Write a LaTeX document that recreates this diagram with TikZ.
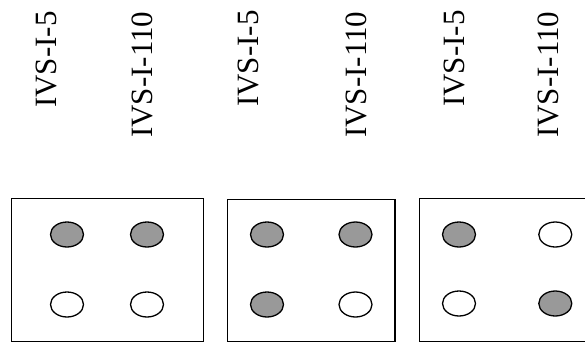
\documentclass[tikz,border=0pt]{standalone}
\usepackage{fontspec}
\setmainfont{Liberation Serif}
\usetikzlibrary{shapes.geometric}
\tikzset{
  x=1pt, y=-1pt,
  panel/.style={draw=black, line width=1.5pt},
  dot/.style={ellipse, draw=black, line width=1.3pt, minimum width=33pt, minimum height=25pt, inner sep=0pt},
  on/.style={dot, fill=black!40},
  off/.style={dot, fill=white},
  lbl/.style={rotate=90, anchor=base west, inner sep=0pt, font=\fontsize{31}{31}\selectfont}
}
\begin{document}
\begin{tikzpicture}
\useasboundingbox (0,0) rectangle (585,343);
\clip (0,0) rectangle (585,343);
% panels
\draw[panel] (11.5,198.5) rectangle (203.3,341.5) coordinate (p1);
\draw[panel] (227.3,199.5) rectangle (395,341.5) coordinate (p2);
\draw[panel] (419.3,198.7) rectangle (592,341.5) coordinate (p3);
% column labels
\node[lbl] (a1) at (56,108) {IVS-I-5};
\node[lbl] (b1) at (152,138) {IVS-I-110};
\node[lbl] (a2) at (258,107) {IVS-I-5};
\node[lbl] (b2) at (366,138) {IVS-I-110};
\node[lbl] (a3) at (464,107) {IVS-I-5};
\node[lbl] (b3) at (558,138) {IVS-I-110};
% panel 1
\node[on]  (d11) at (67,234.5) {};
\node[on]  (d12) at (147,234.5) {};
\node[off] (d13) at (67,304.5) {};
\node[off] (d14) at (147,304.5) {};
% panel 2
\node[on]  (d21) at (267,234.5) {};
\node[on]  (d22) at (355.5,234.5) {};
\node[on]  (d23) at (267,304.5) {};
\node[off] (d24) at (355.5,304.5) {};
% panel 3
\node[on]  (d31) at (459,234.5) {};
\node[off] (d32) at (555.3,234.5) {};
\node[off] (d33) at (459,303.5) {};
\node[on]  (d34) at (555.3,303.5) {};
\end{tikzpicture}
\end{document}
